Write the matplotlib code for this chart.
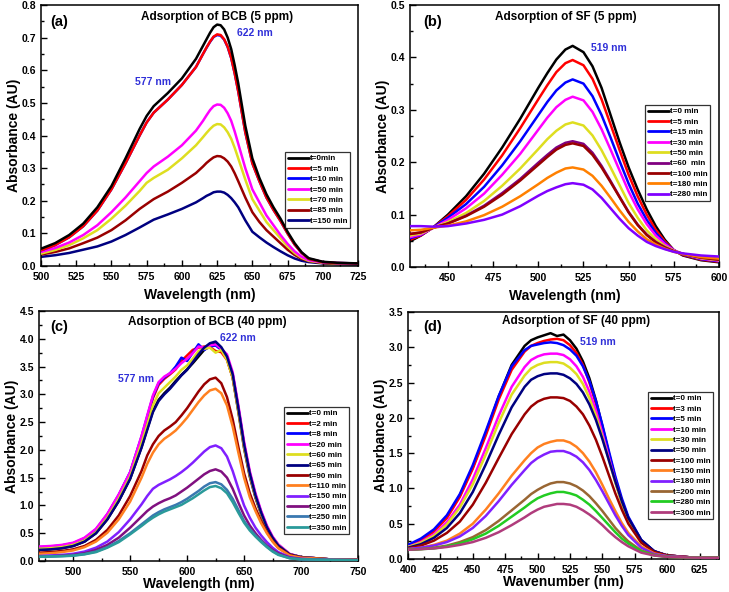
import matplotlib
matplotlib.use("Agg")
import matplotlib.pyplot as plt
from matplotlib.ticker import MultipleLocator, FormatStrFormatter

plt.rcParams['font.family'] = ['Liberation Sans', 'DejaVu Sans']
plt.rcParams['font.weight'] = 'bold'

# ---------------- Panel (a): BCB 5 ppm ----------------
wl_a = [500,510,520,530,540,550,560,570,575,580,590,600,610,615,617.5,620,622.5,625,627.5,630,632.5,635,637.5,640,645,650,655,660,665,670,675,680,685,690,700,710,725]
labels_a = ["t=0min", "t=5 min", "t=10 min", "t=50 min", "t=70 min", "t=85 min", "t=150 min"]
colors_a = ["#000000", "#ff0000", "#0000ff", "#ff00ff", "#dede20", "#990000", "#000080"]
a_t0 = [0.053,0.07,0.095,0.13,0.18,0.245,0.33,0.42,0.46,0.49,0.53,0.575,0.635,0.675,0.695,0.715,0.732,0.740,0.738,0.725,0.70,0.665,0.615,0.56,0.43,0.33,0.27,0.22,0.18,0.145,0.105,0.07,0.042,0.024,0.013,0.01,0.008]
a_t5 = [0.048,0.064,0.088,0.122,0.17,0.235,0.315,0.40,0.44,0.47,0.51,0.555,0.61,0.65,0.670,0.688,0.703,0.710,0.708,0.695,0.672,0.638,0.59,0.535,0.41,0.315,0.26,0.21,0.172,0.138,0.10,0.066,0.04,0.022,0.012,0.009,0.008]
a_t10 = [0.048,0.064,0.088,0.122,0.17,0.235,0.315,0.40,0.44,0.47,0.51,0.555,0.61,0.65,0.669,0.687,0.702,0.708,0.706,0.694,0.671,0.637,0.59,0.535,0.41,0.315,0.26,0.21,0.172,0.138,0.10,0.066,0.04,0.022,0.012,0.009,0.008]
a_t50 = [0.043,0.055,0.072,0.095,0.125,0.165,0.21,0.26,0.285,0.305,0.335,0.37,0.415,0.445,0.462,0.478,0.490,0.495,0.494,0.485,0.468,0.445,0.412,0.375,0.3,0.235,0.195,0.155,0.125,0.095,0.068,0.045,0.028,0.018,0.011,0.009,0.008]
a_t70 = [0.038,0.049,0.064,0.085,0.11,0.145,0.185,0.23,0.255,0.27,0.295,0.33,0.37,0.395,0.408,0.42,0.43,0.435,0.434,0.425,0.41,0.39,0.362,0.33,0.265,0.205,0.17,0.135,0.11,0.085,0.06,0.04,0.025,0.016,0.01,0.008,0.007]
a_t85 = [0.035,0.043,0.054,0.07,0.087,0.11,0.14,0.175,0.19,0.205,0.228,0.255,0.285,0.305,0.316,0.325,0.333,0.337,0.336,0.33,0.32,0.305,0.284,0.26,0.21,0.165,0.135,0.11,0.09,0.07,0.05,0.034,0.022,0.015,0.009,0.007,0.006]
a_t150 = [0.028,0.033,0.04,0.05,0.06,0.075,0.095,0.118,0.13,0.142,0.158,0.175,0.195,0.208,0.215,0.22,0.226,0.228,0.228,0.225,0.218,0.208,0.195,0.18,0.14,0.105,0.088,0.072,0.058,0.045,0.033,0.023,0.016,0.012,0.008,0.006,0.005]
series_a = [a_t0, a_t5, a_t10, a_t50, a_t70, a_t85, a_t150]

# ---------------- Panel (b): SF 5 ppm ----------------
wl_b = [429,435,442,450,460,470,480,490,500,505,510,515,519,525,530,535,540,545,550,555,560,565,570,575,580,590,600]
labels_b = ["t=0 min", "t=5 min", "t=15 min", "t=30 min", "t=50 min", "t=60  min", "t=100 min", "t=180 min", "t=280 min"]
colors_b = ["#000000", "#ff0000", "#0000ff", "#ff00ff", "#dede20", "#800080", "#990000", "#ff8000", "#8000ff"]
b_t0 = [0.049,0.06,0.076,0.10,0.135,0.178,0.228,0.283,0.342,0.37,0.396,0.415,0.422,0.41,0.383,0.342,0.29,0.238,0.19,0.148,0.11,0.078,0.052,0.032,0.022,0.013,0.009]
b_t5 = [0.052,0.06,0.076,0.097,0.128,0.167,0.213,0.265,0.32,0.347,0.372,0.389,0.395,0.385,0.359,0.32,0.272,0.223,0.176,0.135,0.1,0.071,0.049,0.032,0.023,0.014,0.01]
b_t15 = [0.055,0.061,0.076,0.094,0.12,0.153,0.194,0.24,0.29,0.315,0.337,0.352,0.358,0.35,0.326,0.29,0.247,0.202,0.159,0.121,0.09,0.065,0.046,0.032,0.024,0.015,0.011]
b_t30 = [0.057,0.062,0.075,0.09,0.112,0.14,0.176,0.216,0.262,0.285,0.305,0.319,0.325,0.318,0.296,0.263,0.224,0.184,0.144,0.11,0.082,0.06,0.044,0.032,0.025,0.016,0.012]
b_t50 = [0.06,0.064,0.075,0.086,0.103,0.126,0.155,0.188,0.225,0.244,0.26,0.272,0.276,0.27,0.251,0.223,0.19,0.156,0.122,0.094,0.07,0.053,0.04,0.031,0.025,0.017,0.013]
b_t60 = [0.063,0.066,0.075,0.083,0.098,0.117,0.141,0.168,0.199,0.214,0.228,0.237,0.240,0.235,0.218,0.193,0.164,0.134,0.105,0.081,0.062,0.048,0.038,0.030,0.025,0.018,0.014]
b_t100 = [0.063,0.066,0.075,0.083,0.097,0.115,0.138,0.165,0.195,0.21,0.224,0.233,0.236,0.231,0.214,0.19,0.162,0.133,0.104,0.08,0.061,0.047,0.037,0.03,0.025,0.018,0.014]
b_t180 = [0.07,0.071,0.075,0.079,0.087,0.099,0.115,0.135,0.158,0.17,0.18,0.188,0.19,0.186,0.174,0.155,0.132,0.108,0.086,0.068,0.053,0.043,0.035,0.029,0.025,0.019,0.016]
b_t280 = [0.078,0.078,0.077,0.078,0.083,0.09,0.1,0.116,0.136,0.145,0.152,0.158,0.16,0.157,0.148,0.132,0.112,0.092,0.074,0.06,0.048,0.04,0.034,0.029,0.026,0.022,0.02]
series_b = [b_t0, b_t5, b_t15, b_t30, b_t50, b_t60, b_t100, b_t180, b_t280]

# ---------------- Panel (c): BCB 40 ppm ----------------
wl_c = [470,480,490,500,510,520,530,540,550,560,565,570,575,580,585,590,595,600,605,610,615,620,625,630,635,640,645,650,655,660,665,670,675,680,690,700,725,750]
labels_c = ["t=0 min", "t=2 min", "t=8 min", "t=20 min", "t=60 min", "t=65 min", "t=90 min", "t=110 min", "t=150 min", "t=200 min", "t=250 min", "t=350 min"]
colors_c = ["#000000", "#ff0000", "#0000ff", "#ff00ff", "#dede20", "#000080", "#990000", "#ff8020", "#8020ff", "#801080", "#3a78b0", "#2a9a9a"]
c_t0 = [0.2,0.21,0.23,0.27,0.35,0.5,0.75,1.08,1.48,2.05,2.38,2.7,2.9,3.02,3.12,3.24,3.35,3.45,3.56,3.68,3.8,3.87,3.92,3.82,3.64,3.3,2.68,2.03,1.52,1.14,0.84,0.59,0.41,0.27,0.12,0.07,0.03,0.02]
c_t2 = [0.24,0.25,0.27,0.31,0.4,0.56,0.83,1.18,1.58,2.2,2.57,2.93,3.17,3.28,3.36,3.45,3.6,3.7,3.8,3.84,3.86,3.85,3.78,3.76,3.62,3.3,2.72,2.07,1.56,1.17,0.86,0.61,0.42,0.28,0.12,0.07,0.03,0.02]
c_t8 = [0.25,0.26,0.28,0.32,0.41,0.57,0.84,1.19,1.6,2.24,2.6,2.96,3.2,3.3,3.38,3.5,3.66,3.6,3.75,3.9,3.8,3.86,3.88,3.8,3.68,3.36,2.76,2.1,1.58,1.19,0.88,0.62,0.43,0.29,0.12,0.07,0.03,0.02]
c_t20 = [0.26,0.27,0.29,0.33,0.42,0.58,0.85,1.2,1.6,2.25,2.62,2.98,3.22,3.32,3.38,3.46,3.56,3.64,3.74,3.86,3.84,3.88,3.9,3.82,3.72,3.4,2.8,2.15,1.62,1.22,0.9,0.64,0.44,0.3,0.13,0.07,0.03,0.02]
c_t60 = [0.22,0.23,0.25,0.29,0.37,0.52,0.78,1.12,1.52,2.12,2.45,2.8,3.02,3.12,3.22,3.32,3.44,3.52,3.64,3.78,3.82,3.84,3.75,3.8,3.62,3.3,2.7,2.05,1.55,1.16,0.85,0.6,0.41,0.28,0.12,0.07,0.03,0.02]
c_t65 = [0.2,0.21,0.23,0.27,0.35,0.5,0.75,1.08,1.48,2.04,2.36,2.68,2.88,3.0,3.1,3.22,3.34,3.44,3.58,3.72,3.84,3.92,3.95,3.85,3.68,3.36,2.75,2.1,1.58,1.18,0.87,0.61,0.42,0.28,0.12,0.07,0.03,0.02]
c_t90 = [0.15,0.16,0.18,0.21,0.27,0.38,0.56,0.82,1.17,1.62,1.9,2.1,2.25,2.35,2.42,2.5,2.62,2.75,2.9,3.05,3.18,3.27,3.3,3.2,2.95,2.55,2.05,1.58,1.22,0.95,0.72,0.52,0.36,0.24,0.11,0.06,0.03,0.02]
c_t110 = [0.13,0.14,0.16,0.19,0.25,0.35,0.51,0.75,1.07,1.5,1.75,1.95,2.1,2.2,2.27,2.35,2.46,2.58,2.72,2.86,2.98,3.07,3.1,3.02,2.8,2.42,1.95,1.5,1.15,0.9,0.68,0.5,0.35,0.23,0.1,0.06,0.03,0.02]
c_t150 = [0.09,0.1,0.11,0.13,0.17,0.24,0.35,0.52,0.75,1.02,1.17,1.3,1.37,1.42,1.47,1.53,1.6,1.68,1.77,1.87,1.97,2.05,2.08,2.03,1.88,1.62,1.3,1.0,0.78,0.6,0.46,0.34,0.24,0.16,0.07,0.04,0.02,0.015]
c_t200 = [0.08,0.085,0.095,0.11,0.14,0.2,0.29,0.42,0.6,0.8,0.9,0.98,1.04,1.09,1.13,1.18,1.25,1.32,1.4,1.48,1.56,1.62,1.65,1.61,1.5,1.3,1.05,0.82,0.64,0.5,0.38,0.28,0.2,0.14,0.06,0.035,0.02,0.015]
c_t250 = [0.08,0.085,0.09,0.1,0.125,0.17,0.25,0.36,0.5,0.66,0.74,0.82,0.88,0.93,0.97,1.01,1.06,1.12,1.19,1.26,1.34,1.4,1.42,1.38,1.28,1.12,0.92,0.72,0.58,0.46,0.36,0.26,0.18,0.12,0.05,0.03,0.02,0.015]
c_t350 = [0.075,0.08,0.085,0.095,0.12,0.16,0.24,0.34,0.48,0.63,0.71,0.78,0.84,0.89,0.93,0.97,1.01,1.07,1.13,1.2,1.27,1.33,1.35,1.31,1.22,1.06,0.87,0.69,0.55,0.44,0.34,0.25,0.17,0.11,0.05,0.03,0.02,0.015]
series_c = [c_t0, c_t2, c_t8, c_t20, c_t60, c_t65, c_t90, c_t110, c_t150, c_t200, c_t250, c_t350]

# ---------------- Panel (d): SF 40 ppm ----------------
wl_d = [400,410,420,430,440,450,460,470,480,490,495,500,505,510,515,520,525,530,535,540,545,550,555,560,565,570,580,590,600,620,640]
labels_d = ["t=0 min", "t=3 min", "t=5 min", "t=10 min", "t=30 min", "t=50 min", "t=100 min", "t=150 min", "t=180 min", "t=200 min", "t=280 min", "t=300 min"]
colors_d = ["#000000", "#ff0000", "#0000ff", "#ff00ff", "#dede20", "#000080", "#990000", "#ff8020", "#8020ff", "#996633", "#22cc22", "#b03c7c"]
d_t0 = [0.19,0.27,0.4,0.6,0.9,1.3,1.78,2.3,2.75,3.02,3.1,3.14,3.17,3.2,3.16,3.18,3.1,2.98,2.8,2.56,2.25,1.88,1.5,1.14,0.83,0.58,0.26,0.11,0.05,0.02,0.015]
d_t3 = [0.18,0.26,0.39,0.58,0.88,1.28,1.75,2.26,2.68,2.94,3.02,3.06,3.09,3.11,3.12,3.1,3.03,2.92,2.75,2.5,2.2,1.84,1.46,1.1,0.8,0.56,0.25,0.1,0.05,0.02,0.015]
d_t5 = [0.2,0.29,0.42,0.62,0.92,1.33,1.81,2.31,2.73,2.96,3.02,3.04,3.06,3.07,3.06,3.03,2.97,2.88,2.73,2.52,2.24,1.9,1.53,1.17,0.86,0.6,0.27,0.11,0.05,0.02,0.015]
d_t10 = [0.17,0.24,0.35,0.52,0.77,1.13,1.57,2.03,2.44,2.72,2.82,2.87,2.9,2.91,2.91,2.89,2.83,2.73,2.58,2.37,2.1,1.78,1.44,1.1,0.8,0.56,0.25,0.1,0.05,0.02,0.015]
d_t30 = [0.17,0.23,0.33,0.49,0.73,1.06,1.48,1.93,2.33,2.6,2.7,2.75,2.78,2.79,2.79,2.77,2.71,2.62,2.48,2.28,2.03,1.73,1.4,1.08,0.79,0.55,0.25,0.1,0.05,0.02,0.015]
d_t50 = [0.16,0.21,0.3,0.44,0.65,0.95,1.34,1.76,2.15,2.44,2.54,2.59,2.62,2.63,2.63,2.61,2.56,2.48,2.36,2.19,1.97,1.7,1.4,1.1,0.82,0.58,0.27,0.11,0.05,0.02,0.015]
d_t100 = [0.15,0.19,0.26,0.37,0.53,0.77,1.08,1.43,1.77,2.05,2.16,2.23,2.27,2.29,2.29,2.28,2.24,2.16,2.05,1.89,1.69,1.45,1.19,0.93,0.7,0.5,0.23,0.1,0.05,0.02,0.015]
d_t150 = [0.14,0.16,0.2,0.26,0.36,0.5,0.7,0.93,1.18,1.4,1.5,1.58,1.63,1.66,1.68,1.68,1.65,1.59,1.5,1.38,1.23,1.05,0.86,0.68,0.51,0.37,0.18,0.08,0.04,0.02,0.015]
d_t180 = [0.14,0.16,0.19,0.24,0.32,0.44,0.61,0.82,1.05,1.26,1.36,1.43,1.48,1.52,1.53,1.53,1.5,1.45,1.37,1.26,1.12,0.96,0.79,0.62,0.47,0.34,0.16,0.07,0.04,0.02,0.015]
d_t200 = [0.13,0.14,0.16,0.19,0.24,0.31,0.41,0.54,0.69,0.84,0.92,0.98,1.03,1.07,1.09,1.09,1.07,1.03,0.97,0.89,0.79,0.68,0.56,0.44,0.34,0.25,0.12,0.06,0.03,0.02,0.015]
d_t280 = [0.13,0.14,0.15,0.18,0.22,0.28,0.36,0.47,0.6,0.73,0.8,0.86,0.9,0.93,0.95,0.95,0.93,0.9,0.84,0.77,0.68,0.58,0.48,0.38,0.29,0.22,0.11,0.05,0.03,0.02,0.015]
d_t300 = [0.13,0.14,0.15,0.17,0.2,0.24,0.3,0.38,0.48,0.59,0.65,0.7,0.74,0.76,0.78,0.78,0.77,0.74,0.69,0.63,0.56,0.48,0.39,0.31,0.24,0.18,0.09,0.05,0.03,0.02,0.015]
series_d = [d_t0, d_t3, d_t5, d_t10, d_t30, d_t50, d_t100, d_t150, d_t180, d_t200, d_t280, d_t300]

W, H = 729, 592
fig = plt.figure(figsize=(W / 100, H / 100), dpi=100)

def px_axes(x0, y0, x1, y1):
    return fig.add_axes([x0 / W, 1 - y1 / H, (x1 - x0) / W, (y1 - y0) / H])

BLUE_TXT = "#3030d8"

def draw(ax, wl, series, labels, colors, xlim, ylim, xmaj, ymaj, xlabel, xlabpad,
         title, tpos, letter, lpos, leg_xy, notes, reverse=False):
    n = len(series)
    for i, (ys, lab, col) in enumerate(zip(series, labels, colors)):
        z = (n - i) if reverse else (i + 1)
        ax.plot(wl, ys, color=col, lw=1.8, label=lab, zorder=z,
                solid_joinstyle='round', solid_capstyle='round')
    ax.set_xlim(*xlim)
    ax.set_ylim(*ylim)
    ax.xaxis.set_major_locator(MultipleLocator(xmaj))
    ax.xaxis.set_minor_locator(MultipleLocator(xmaj / 2))
    ax.yaxis.set_major_locator(MultipleLocator(ymaj))
    ax.yaxis.set_minor_locator(MultipleLocator(ymaj / 2))
    ax.yaxis.set_major_formatter(FormatStrFormatter("%.1f"))
    ax.tick_params(which='both', direction='in', top=False, right=False, labelsize=7.5, width=1.0)
    ax.tick_params(which='major', length=4)
    ax.tick_params(which='minor', length=2.5)
    ax.tick_params(axis='x', which='major', pad=4.5)
    ax.tick_params(axis='y', which='major', pad=3.5)
    for lab in ax.get_xticklabels() + ax.get_yticklabels():
        lab.set_fontweight('bold')
    for s in ax.spines.values():
        s.set_linewidth(1.1)
    ax.set_xlabel(xlabel, fontsize=10, fontweight='bold', labelpad=xlabpad)
    ax.set_ylabel("Absorbance (AU)", fontsize=10, fontweight='bold', labelpad=0.5)
    ax.text(tpos[0], tpos[1], title, transform=ax.transAxes, ha='center', va='center',
            fontsize=8.5, fontweight='bold')
    ax.text(lpos[0], lpos[1], letter, transform=ax.transAxes, ha='left', va='center',
            fontsize=10.5, fontweight='bold')
    for (tx, ty, s) in notes:
        ax.text(tx, ty, s, ha='center', va='center', fontsize=7.5, fontweight='bold', color=BLUE_TXT)
    leg = ax.legend(loc='upper left', bbox_to_anchor=(leg_xy[0] / W, 1 - leg_xy[1] / H),
                    bbox_transform=fig.transFigure, fontsize=5.8, frameon=True, fancybox=False,
                    edgecolor='black', handlelength=2.6, handletextpad=0.1, labelspacing=0.34,
                    borderpad=0.35, borderaxespad=0)
    leg.get_frame().set_linewidth(0.9)
    leg.set_zorder(50)
    for t in leg.get_texts():
        t.set_fontweight('bold')
    for l in leg.get_lines():
        l.set_linewidth(2.0)

ax_a = px_axes(41, 5, 358, 266)
draw(ax_a, wl_a, series_a, labels_a, colors_a, (500, 725), (0, 0.8), 25, 0.1, "Wavelength (nm)", 4,
     "Adsorption of BCB (5 ppm)", (0.555, 0.954), "(a)", (0.03, 0.935), (285, 152),
     [(651.6, 0.713, "622 nm"), (579.3, 0.565, "577 nm")], reverse=True)

ax_b = px_axes(410, 5, 719, 267)
draw(ax_b, wl_b, series_b, labels_b, colors_b, (429, 600), (0, 0.5), 25, 0.1, "Wavelength (nm)", 4,
     "Adsorption of SF (5 ppm)", (0.505, 0.954), "(b)", (0.042, 0.935), (645, 105),
     [(539.2, 0.417, "519 nm")])

ax_c = px_axes(39, 311, 358, 561)
draw(ax_c, wl_c, series_c, labels_c, colors_c, (470, 750), (0, 4.5), 50, 0.5, "Wavelength (nm)", 0,
     "Adsorption of BCB (40 ppm)", (0.527, 0.956), "(c)", (0.034, 0.936), (284, 407),
     [(644.9, 4.01, "622 nm"), (555.4, 3.27, "577 nm")])

ax_d = px_axes(408, 312, 719, 559)
draw(ax_d, wl_d, series_d, labels_d, colors_d, (400, 640), (0, 3.5), 25, 0.5, "Wavenumber (nm)", 0,
     "Adsorption of SF (40 ppm)", (0.54, 0.964), "(d)", (0.048, 0.94), (648, 392),
     [(546.8, 3.08, "519 nm")])

fig.savefig("out.png", dpi=100)
